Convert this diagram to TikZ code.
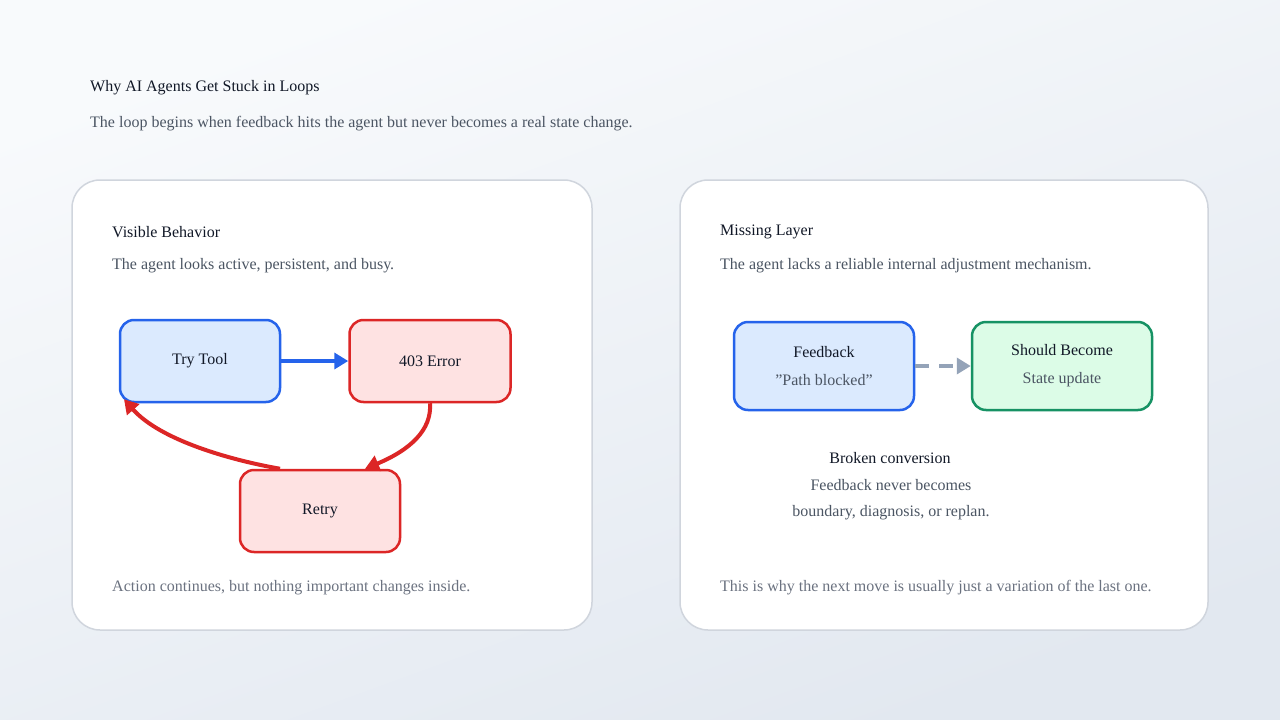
\documentclass[tikz,border=0pt]{standalone}
\usepackage{fontspec}
\setmainfont{Liberation Serif}[Ligatures=ResetAll]
\usetikzlibrary{arrows.meta, positioning}
\definecolor{bgtop}{RGB}{248, 250, 252}
\definecolor{bgbottom}{RGB}{226, 232, 240}
\definecolor{cardline}{RGB}{208, 213, 221}
\definecolor{inkdark}{RGB}{17, 24, 39}
\definecolor{inkmid}{RGB}{75, 85, 99}
\definecolor{inklight}{RGB}{107, 114, 128}
\definecolor{toolblue}{RGB}{37, 99, 235}
\definecolor{toolfill}{RGB}{219, 234, 254}
\definecolor{errred}{RGB}{220, 38, 38}
\definecolor{errfill}{RGB}{254, 226, 226}
\definecolor{okgreen}{RGB}{22, 146, 100}
\definecolor{okfill}{RGB}{220, 252, 231}
\definecolor{dashgray}{RGB}{148, 163, 184}

\begin{document}
\begin{tikzpicture}[
    x=1pt, y=-1pt,
    card/.style={draw=cardline, line width=1.5pt, fill=white, rounded corners=28pt},
    stagebox/.style={rectangle, rounded corners=14pt, line width=2.5pt, text centered, font=\fontsize{16}{19}\selectfont, text=inkdark},
    toolbox/.style={stagebox, draw=toolblue, fill=toolfill},
    errbox/.style={stagebox, draw=errred, fill=errfill},
    goodbox/.style={stagebox, draw=okgreen, fill=okfill},
    heading/.style={anchor=west, inner sep=0pt, font=\fontsize{16}{19}\selectfont, text=inkdark},
    body/.style={anchor=west, inner sep=0pt, font=\fontsize{16}{19}\selectfont, text=inkmid},
    foot/.style={anchor=west, inner sep=0pt, font=\fontsize{16}{19}\selectfont, text=inklight},
    loop/.style={draw=errred, line width=4pt, -{Triangle[length=14pt, width=16pt]}}
]

% Background
\shade [top color=bgtop, bottom color=bgbottom, shading angle=20] (0,0) rectangle (1280,720);
\useasboundingbox (0,0) rectangle (1280,720);

% Title
\node (title) [heading] at (90,88) {Why AI Agents Get Stuck in Loops};
\node (subtitle) [body] at (90,124) {The loop begins when feedback hits the agent but never becomes a real state change.};

% Cards
\draw [card] (72,180) rectangle (592,630);
\draw [card] (680,180) rectangle (1208,630);

% Left card
\node (left_head) [heading] at (112,232) {Visible Behavior};
\node (left_body) [body] at (112,266) {The agent looks active, persistent, and busy.};
\node (left_foot) [foot] at (112,588) {Action continues, but nothing important changes inside.};

\node (try_tool) [toolbox, minimum width=160pt, minimum height=82pt] at (200,361) {Try Tool};
\node (error_403) [errbox, minimum width=161pt, minimum height=82pt] at (430,361) {403 Error};
\node (retry) [errbox, minimum width=160pt, minimum height=82pt] at (320,511) {Retry};

\draw [draw=toolblue, line width=4pt, -{Triangle[length=14pt, width=16pt]}] (try_tool.east) -- (error_403.west);
\draw [loop] (error_403.south) .. controls (432,430) and (410,450) .. ([xshift=45pt]retry.north);
\draw [loop] ([xshift=-40pt]retry.north) .. controls (230,460) and (160,440) .. ([xshift=-76pt, yshift=4pt]try_tool.south);

% Right card
\node (right_head) [heading] at (720,232) {Missing Layer};
\node (right_body) [body] at (720,266) {The agent lacks a reliable internal adjustment mechanism.};
\node (right_foot) [foot] at (720,588) {This is why the next move is usually just a variation of the last one.};

\node (feedback) [toolbox, minimum width=180pt, minimum height=88pt, align=center] at (824,366)
    {Feedback\\[9pt]{\color{inkmid}"Path blocked"}};
\node (should_become) [goodbox, minimum width=180pt, minimum height=88pt, align=center] at (1062,366)
    {Should Become\\[9pt]{\color{inkmid}State update}};

\draw [draw=dashgray, line width=4pt, dash pattern=on 14pt off 10pt, -{Triangle[length=14pt, width=16pt]}] (feedback.east) -- (should_become.west);

\node (broken_head) [font=\fontsize{16}{19}\selectfont, text=inkdark] at (890,458) {Broken conversion};
\node (broken_body) [font=\fontsize{16}{19}\selectfont, text=inkmid, align=center] at (891,500)
    {Feedback never becomes\\[7pt]boundary, diagnosis, or replan.};

\end{tikzpicture}
\end{document}
